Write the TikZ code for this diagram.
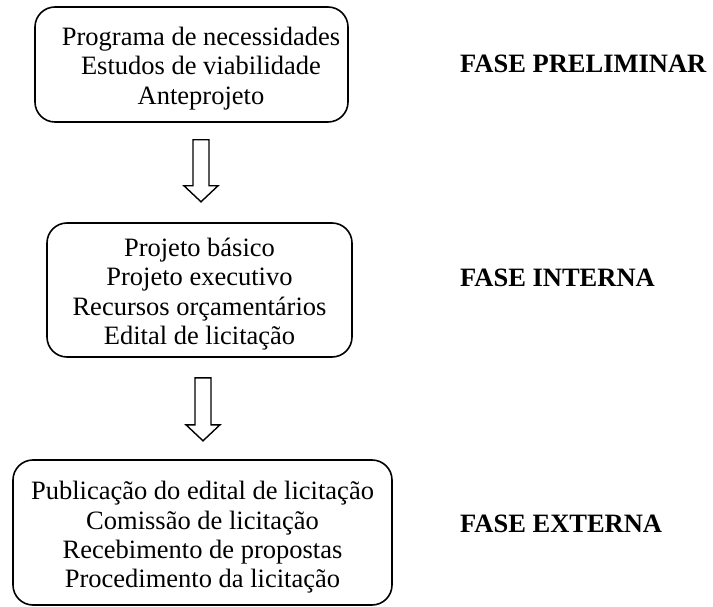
\documentclass[tikz,border=0pt]{standalone}
\usepackage{fontspec}
\setmainfont{Liberation Serif}
\usetikzlibrary{calc}
\begin{document}
\begin{tikzpicture}[x=1pt,y=-1pt,
  box/.style={draw, line width=1.6pt, rounded corners=20pt, inner sep=0pt},
  boxtext/.style={align=center, inner sep=0pt, font=\fontsize{26.5}{29.3}\selectfont},
  phase/.style={anchor=west, inner sep=0pt, font=\fontsize{26.5}{29.3}\selectfont\bfseries},
  hollow/.style={draw, line width=1.4pt, fill=white, line join=miter}]
\useasboundingbox (0,0) rectangle (713,607);
\node[box, minimum width=313pt, minimum height=115pt] (b1) at (191.5,64.5) {};
\node[boxtext] (t1) at ($(b1.center)+(9.5,4)$)
  {Programa de necessidades\\Estudos de viabilidade\\Anteprojeto};
\node[box, minimum width=305pt, minimum height=134pt] (b2) at (199.5,290) {};
\node[boxtext] (t2) at ($(b2.center)+(0,4)$)
  {Projeto básico\\Projeto executivo\\Recursos orçamentários\\Edital de licitação};
\node[box, minimum width=379pt, minimum height=145pt] (b3) at (202.5,532.5) {};
\node[boxtext] (t3) at ($(b3.center)+(0,5)$)
  {Publicação do edital de licitação\\Comissão de licitação\\Recebimento de propostas\\Procedimento da licitação};
\node[phase] (p1) at (460,64) {FASE PRELIMINAR};
\node[phase] (p2) at (460,278) {FASE INTERNA};
\node[phase] (p3) at (460,524) {FASE EXTERNA};
\coordinate (a1) at ($(b1.south)+(9.5,17)$);
\coordinate (a2) at ($(b2.south)+(3.5,20)$);
\draw[hollow] (a1) ++(-8,0) -- ++(0,46) -- ++(-9,0) -- ++(17,16) -- ++(17,-16) -- ++(-9,0) -- ++(0,-46) -- cycle;
\draw[hollow] (a2) ++(-8,0) -- ++(0,47) -- ++(-9,0) -- ++(17,16) -- ++(17,-16) -- ++(-9,0) -- ++(0,-47) -- cycle;
\end{tikzpicture}
\end{document}
